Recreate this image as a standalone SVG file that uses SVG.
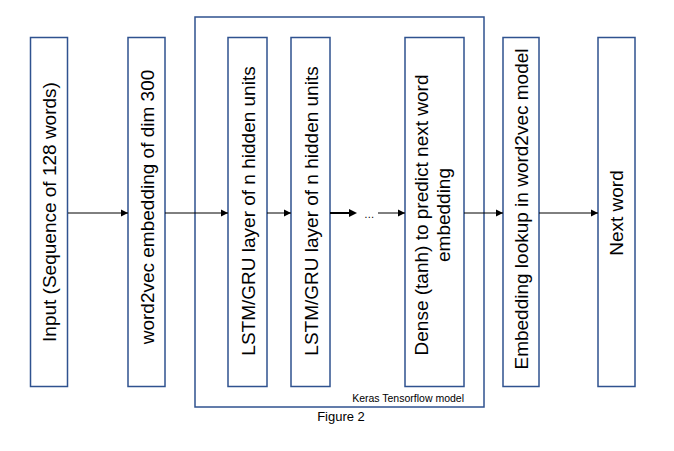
<svg xmlns="http://www.w3.org/2000/svg" width="674" height="451" viewBox="0 0 674 451">
<defs>
<style>
.box{fill:#fff;stroke:#2F528F;stroke-width:1.5}
.outer{fill:none;stroke:#2F528F;stroke-width:1.5}
.lbl{font-family:"Liberation Sans",Arial,sans-serif;font-size:19px;fill:#000;text-anchor:middle}
.sm{font-family:"Liberation Sans",Arial,sans-serif;font-size:10.5px;fill:#000}
.cap{font-family:"Liberation Sans",Arial,sans-serif;font-size:13px;fill:#000;text-anchor:middle}
.ar{stroke:#000;stroke-width:1;fill:none;marker-end:url(#ah)}
</style>
<marker id="ah" markerWidth="8" markerHeight="8" refX="7" refY="4" orient="auto" markerUnits="userSpaceOnUse">
<path d="M0,0.5 L7,4 L0,7.5 Z" fill="#000"/>
</marker>
</defs>
<rect width="674" height="451" fill="#fff"/>
<g id="keras">
<rect class="outer" x="195" y="17" width="289" height="390"/>
<text class="sm" x="464" y="402" text-anchor="end">Keras Tensorflow model</text>
</g>
<g id="input">
<rect class="box" x="30.5" y="37.5" width="37" height="349"/>
<text class="lbl" transform="translate(55.5,212) rotate(-90)">Input (Sequence of 128 words)</text>
</g>
<g id="w2v">
<rect class="box" x="128" y="37.5" width="37" height="349"/>
<text class="lbl" transform="translate(153.5,207) rotate(-90)">word2vec embedding of dim 300</text>
</g>
<g id="lstm1">
<rect class="box" x="228" y="37.5" width="39" height="349"/>
<text class="lbl" transform="translate(254.5,211) rotate(-90)">LSTM/GRU layer of n hidden units</text>
</g>
<g id="lstm2">
<rect class="box" x="291" y="37.5" width="39" height="349"/>
<text class="lbl" transform="translate(317.5,211) rotate(-90)">LSTM/GRU layer of n hidden units</text>
</g>
<g id="dense">
<rect class="box" x="405" y="37.5" width="59" height="349"/>
<text class="lbl" transform="translate(428,215) rotate(-90)">Dense (tanh) to predict next word</text>
<text class="lbl" transform="translate(450,215) rotate(-90)">embedding</text>
</g>
<g id="lookup">
<rect class="box" x="503" y="37.5" width="36" height="349"/>
<text class="lbl" transform="translate(527.5,209) rotate(-90)">Embedding lookup in word2vec model</text>
</g>
<g id="next">
<rect class="box" x="598" y="37.5" width="37" height="349"/>
<text class="lbl" transform="translate(623,213) rotate(-90)">Next word</text>
</g>
<g id="connectors">
<line class="ar" x1="68" y1="213" x2="128" y2="213"/>
<line class="ar" x1="165" y1="213" x2="228" y2="213"/>
<line class="ar" x1="267" y1="213" x2="291" y2="213"/>
<line x1="330" y1="213" x2="351" y2="213" stroke="#000" stroke-width="2"/>
<path d="M349,209 L357,213 L349,217 Z" fill="#000"/>
<text class="sm" x="364" y="218" font-size="12">…</text>
<line class="ar" x1="378" y1="213" x2="405" y2="213"/>
<line class="ar" x1="464" y1="213" x2="503" y2="213"/>
<line class="ar" x1="539" y1="213" x2="598" y2="213"/>
</g>
<text class="cap" x="341" y="421">Figure 2</text>
</svg>
